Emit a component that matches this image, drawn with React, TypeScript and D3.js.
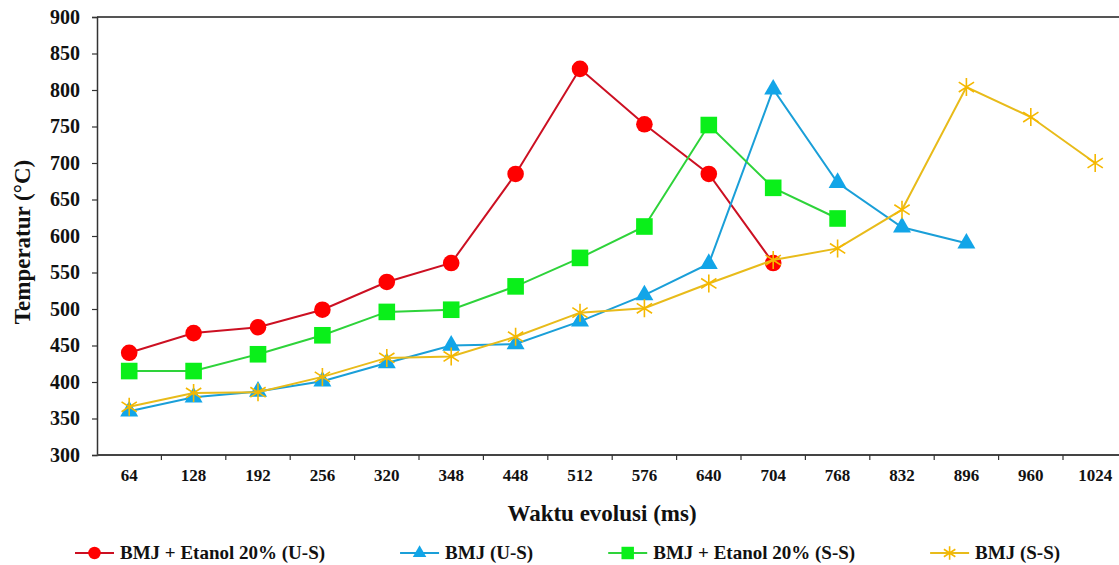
import React, { useEffect, useRef } from 'react'
import * as d3 from 'd3'

const categories = ['64','128','192','256','320','348','448','512','576','640','704','768','832','896','960','1024']
const yTicks = [300,350,400,450,500,550,600,650,700,750,800,850,900]

const redUS = [440,467,475,499,537,563,685,829,753,685,563]
const blueUS = [360,379,387,401,426,450,452,483,519,562,801,673,612,590]
const greenSS = [415,415,438,464,496,499,531,570,613,752,666,624]
const yellowSS = [366,385,386,407,433,435,462,495,501,535,567,583,636,804,763,700]

const seriesNames = ['BMJ + Etanol 20% (U-S)','BMJ (U-S)','BMJ + Etanol 20% (S-S)','BMJ (S-S)']

function App(){
  const svgRef = useRef<SVGSVGElement>(null)
  const W = 1119, H = 565
  const left = 97, top = 17, bottom = 455

  useEffect(()=>{
    const svg = d3.select(svgRef.current)
    svg.selectAll('*').remove()
    const font = '"Liberation Serif", "Times New Roman", serif'

    const series = [
      { name: seriesNames[0], values: redUS, line: '#cc1022', fill: '#ff0000', shape: 'circle' },
      { name: seriesNames[1], values: blueUS, line: '#1a9fd8', fill: '#12a5e8', shape: 'triangle' },
      { name: seriesNames[2], values: greenSS, line: '#2ed33a', fill: '#0aef1a', shape: 'square' },
      { name: seriesNames[3], values: yellowSS, line: '#e8bb1a', fill: '#f5b800', shape: 'star' },
    ]

    const x = d3.scaleBand().domain(categories).range([left, left + 16*64.4])
    const y = d3.scaleLinear().domain([300,900]).range([bottom, top])
    const cx = (i:number) => x(categories[i])! + x.bandwidth()/2

    // top border
    svg.append('line').attr('x1',left).attr('x2',W).attr('y1',top).attr('y2',top)
      .attr('stroke','#555').attr('stroke-width',2)

    // y axis
    const ya = svg.append('g').attr('transform',`translate(${left},0)`)
      .call(d3.axisLeft(y).tickValues(yTicks).tickSize(5).tickPadding(12))
    ya.select('.domain').attr('stroke','#333').attr('stroke-width',1.5)
    ya.selectAll('line').attr('stroke','#333').attr('stroke-width',1.2)
    ya.selectAll('text').attr('font-family',font).attr('font-weight','bold')
      .attr('font-size',20).attr('fill','#111')

    // x axis
    const xa = svg.append('g').attr('transform',`translate(0,${bottom})`)
      .call(d3.axisBottom(x).tickSize(0).tickPadding(12))
    xa.select('.domain').remove()
    svg.append('line').attr('x1',left).attr('x2',W).attr('y1',bottom).attr('y2',bottom)
      .attr('stroke','#444').attr('stroke-width',2)
    xa.selectAll('text').attr('font-family',font).attr('font-weight','bold')
      .attr('font-size',17).attr('fill','#111').attr('dy','0.8em')
    categories.forEach((c,i)=>{
      if(i===0) return
      const px = x(c)!
      svg.append('line').attr('x1',px).attr('x2',px).attr('y1',bottom).attr('y2',bottom+5)
        .attr('stroke','#333').attr('stroke-width',1.2)
    })

    // titles
    svg.append('text').attr('transform',`translate(30,${(top+bottom)/2 + 6}) rotate(-90)`)
      .attr('text-anchor','middle').attr('font-family',font).attr('font-weight','bold')
      .attr('font-size',23).attr('fill','#111').text('Temperatur (°C)')
    svg.append('text').attr('x',602).attr('y',521).attr('text-anchor','middle')
      .attr('font-family',font).attr('font-weight','bold').attr('font-size',23)
      .attr('fill','#111').text('Waktu evolusi (ms)')

    const drawMarker = (g:any, shape:string, px:number, py:number, fill:string, k=1) => {
      if(shape==='circle'){
        g.append('circle').attr('cx',px).attr('cy',py).attr('r',8.3*k).attr('fill',fill)
      } else if(shape==='square'){
        g.append('rect').attr('x',px-8.3*k).attr('y',py-8.3*k).attr('width',16.6*k).attr('height',16.6*k).attr('fill',fill)
      } else if(shape==='triangle'){
        g.append('path').attr('d',d3.symbol(d3.symbolTriangle,140*k*k)()!)
          .attr('transform',`translate(${px},${py})`).attr('fill',fill)
      } else {
        const r = 9*k
        g.append('path')
          .attr('d',`M0,${-r}V${r}M${-r*0.85},${-r*0.55}L${r*0.85},${r*0.55}M${-r*0.85},${r*0.55}L${r*0.85},${-r*0.55}`)
          .attr('transform',`translate(${px},${py})`).attr('stroke',fill).attr('stroke-width',1.6).attr('fill','none')
      }
    }

    const line = d3.line<number>().x((d,i)=>cx(i)).y(d=>y(d))
    series.forEach(s=>{
      const g = svg.append('g')
      g.append('path').datum(s.values).attr('fill','none').attr('stroke',s.line)
        .attr('stroke-width',2).attr('d',line)
      s.values.forEach((v,i)=>drawMarker(g,s.shape,cx(i),y(v),s.fill))
    })

    // legend
    const ly = 553
    let lx = 75
    series.forEach(s=>{
      const g = svg.append('g')
      g.append('line').attr('x1',lx).attr('x2',lx+39).attr('y1',ly).attr('y2',ly)
        .attr('stroke',s.line).attr('stroke-width',2)
      drawMarker(g,s.shape,lx+19.5,ly,s.fill,0.75)
      const t = g.append('text').attr('x',lx+45).attr('y',ly+6).attr('font-family',font)
        .attr('font-weight','bold').attr('font-size',19).attr('fill','#111').text(s.name)
      const w = (t.node() as SVGTextElement).getComputedTextLength()
      lx = lx + 45 + w + 75
    })
  },[])

  return (
    <svg ref={svgRef} width={W} height={H} style={{position:'absolute',left:0,top:0}}></svg>
  )
}
export default App
